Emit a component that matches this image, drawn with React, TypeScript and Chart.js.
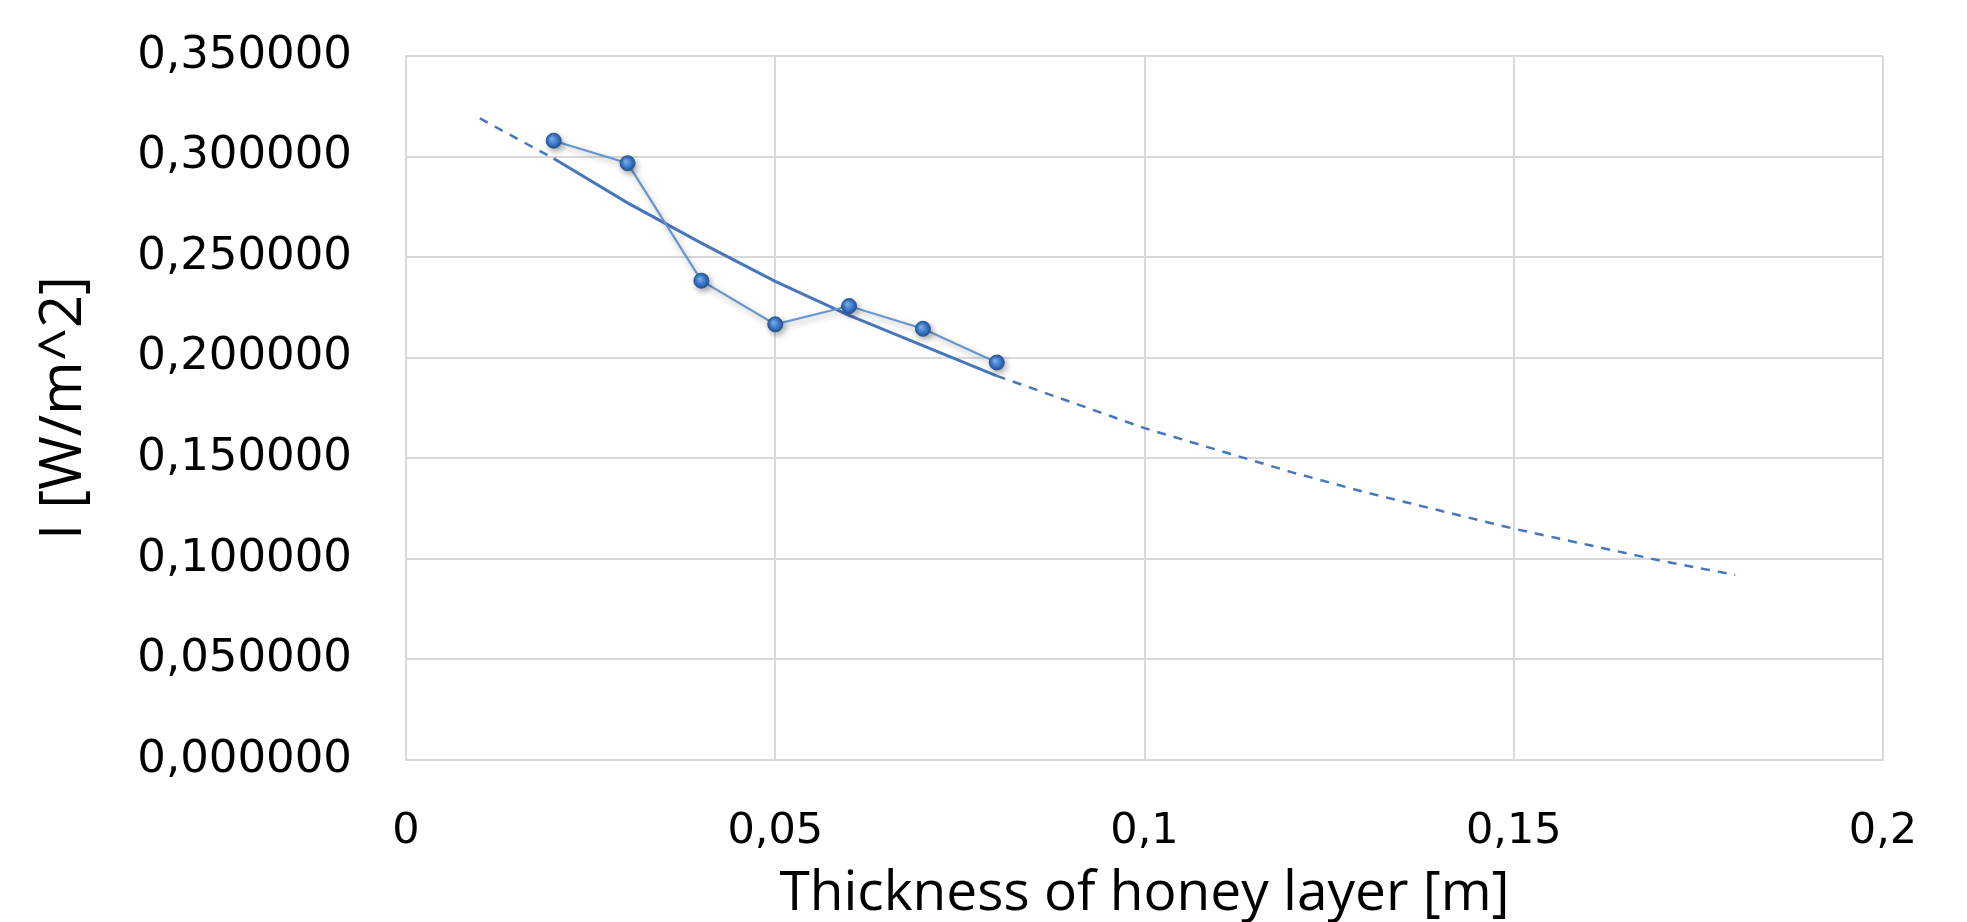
import { useEffect, useRef } from 'react';
import { Chart, registerables } from 'chart.js';

Chart.register(...registerables);

// Measured series: thickness of honey layer [m] vs intensity [W/m^2]
const thickness = [0.02, 0.03, 0.04, 0.05, 0.06, 0.07, 0.08];
const intensity = [0.3079, 0.2967, 0.2383, 0.2166, 0.2257, 0.2144, 0.1976];

// Trend line, solid over the data range, dashed forecast
const trendX = [0.01, 0.02, 0.03, 0.04, 0.05, 0.06, 0.07, 0.08, 0.09, 0.10, 0.11, 0.12, 0.13, 0.14, 0.15, 0.16, 0.17, 0.18];
const trendY = [0.319, 0.299, 0.277, 0.257, 0.238, 0.221, 0.206, 0.191, 0.178, 0.165, 0.154, 0.143, 0.133, 0.124, 0.115, 0.107, 0.099, 0.092];

const solidFrom = 0.02;
const solidTo = 0.08;

const xMin = 0;
const xMax = 0.2;
const xStep = 0.05;
const yMin = 0;
const yMax = 0.35;
const yStep = 0.05;

const xTitle = 'Thickness of honey layer [m]';
const yTitle = 'I [W/m^2]';

const shadowPlugin = {
  id: 'seriesShadow',
  beforeDatasetDraw(chart: any, args: any) {
    if (args.index === 0) {
      const c = chart.ctx;
      c.save();
      c.shadowColor = 'rgba(0,0,0,0.32)';
      c.shadowBlur = 6;
      c.shadowOffsetX = 2;
      c.shadowOffsetY = 3;
    }
  },
  afterDatasetDraw(chart: any, args: any) {
    if (args.index === 0) chart.ctx.restore();
  },
};

export default function App() {
  const ref = useRef<HTMLCanvasElement | null>(null);

  useEffect(() => {
    document.body.style.margin = '0';
    const canvas = ref.current;
    if (!canvas) return;

    const gridColor = '#d9d9d9';
    const fontFamily = '"DejaVu Sans", Verdana, sans-serif';

    const chart = new Chart(canvas, {
      type: 'scatter',
      data: {
        datasets: [
          {
            label: 'I',
            data: thickness.map((x, i) => ({ x, y: intensity[i] })),
            showLine: true,
            borderColor: '#6795d0',
            borderWidth: 2.2,
            pointRadius: 7.5,
            pointBorderWidth: 1,
            pointBorderColor: '#2b5690',
            pointBackgroundColor: (ctx: any) => {
              const ch = ctx.chart;
              if (ctx.type !== 'data' || !ch.scales || !ch.scales.x || !ch.scales.y) return '#3f7fd0';
              const px = ch.scales.x.getPixelForValue(ctx.raw.x);
              const py = ch.scales.y.getPixelForValue(ctx.raw.y);
              if (!Number.isFinite(px) || !Number.isFinite(py)) return '#3f7fd0';
              const g = ch.ctx.createRadialGradient(px - 2, py - 2, 0, px, py, 8);
              g.addColorStop(0, '#86b8f2');
              g.addColorStop(0.55, '#3f7fd2');
              g.addColorStop(1, '#24508c');
              return g;
            },
            tension: 0,
          },
          {
            label: 'Trend',
            data: trendX.map((x, i) => ({ x, y: trendY[i] })),
            showLine: true,
            borderColor: '#4876bd',
            borderWidth: 3,
            pointRadius: 0,
            tension: 0,
            segment: {
              borderDash: (ctx: any) =>
                ctx.p0.parsed.x >= solidFrom - 1e-9 && ctx.p1.parsed.x <= solidTo + 1e-9 ? [] : [9, 8],
              borderWidth: (ctx: any) =>
                ctx.p0.parsed.x >= solidFrom - 1e-9 && ctx.p1.parsed.x <= solidTo + 1e-9 ? 3 : 2.5,
            },
          },
        ],
      },
      options: {
        responsive: false,
        animation: false,
        devicePixelRatio: 1,
        layout: { padding: { left: 0, top: 56, right: 84, bottom: 0 } },
        plugins: {
          legend: { display: false },
          tooltip: { enabled: false },
        },
        scales: {
          x: {
            type: 'linear',
            min: xMin,
            max: xMax,
            afterFit: (scale: any) => {
              scale.height = 162;
              scale.paddingLeft = 0;
              scale.paddingRight = 0;
            },
            ticks: {
              stepSize: xStep,
              color: '#000',
              font: { family: fontFamily, size: 43 },
              padding: 46,
              maxRotation: 0,
              callback: (v: any) => String(Math.round(Number(v) * 100) / 100).replace('.', ','),
            },
            grid: { color: gridColor, lineWidth: 2, drawTicks: false },
            border: { display: true, color: gridColor, width: 2 },
            title: {
              display: true,
              text: xTitle,
              color: '#000',
              font: { family: '"Open Sans", sans-serif', size: 55, lineHeight: 1 },
              padding: { top: 0, bottom: 0 },
            },
          },
          y: {
            type: 'linear',
            min: yMin,
            max: yMax,
            afterFit: (scale: any) => {
              scale.width = 406;
              scale.paddingTop = 0;
              scale.paddingBottom = 0;
            },
            ticks: {
              stepSize: yStep,
              color: '#000',
              font: { family: fontFamily, size: 45 },
              padding: 54,
              callback: (v: any) => Number(v).toFixed(6).replace('.', ','),
            },
            grid: { color: gridColor, lineWidth: 2, drawTicks: false },
            border: { display: true, color: gridColor, width: 2 },
            title: {
              display: true,
              text: yTitle,
              color: '#000',
              font: { family: '"Open Sans", sans-serif', size: 58, lineHeight: 1 },
              padding: { top: 35, bottom: 0 },
            },
          },
        },
      },
      plugins: [shadowPlugin],
    });

    return () => chart.destroy();
  }, []);

  return (
    <div style={{ width: 1967, height: 922 }}>
      <canvas ref={ref} width={1967} height={922} style={{ display: 'block' }} />
    </div>
  );
}
